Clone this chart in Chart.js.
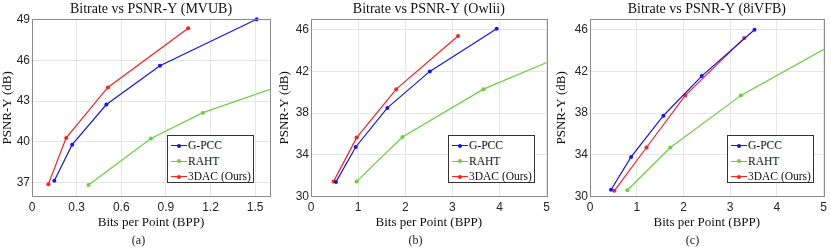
<!DOCTYPE html>
<html>
<head>
<meta charset="utf-8">
<script src="https://cdn.jsdelivr.net/npm/chart.js@4.4.1/dist/chart.umd.min.js"></script>
<style>
  html, body { margin: 0; padding: 0; background: #fff; }
  #wrap { position: relative; width: 831px; height: 250px; overflow: hidden; }
  .panel { position: absolute; top: 0; width: 277px; height: 250px; }
  .panel canvas { position: absolute; left: 0; top: 0; }
  .legend { position: absolute; background: #fff; border: 1px solid #333; box-sizing: border-box;
            width: 87px; height: 48px; font-family: "Liberation Serif", "Times New Roman", serif;
            font-size: 11.5px; color: #111; padding-top: 2px; }
  .legend .row { position: relative; height: 15.6px; line-height: 15.6px; padding-left: 20px; white-space: nowrap; }
  .legend .row i { position: absolute; left: 2.5px; top: 7px; width: 16px; height: 1.2px; }
  .legend .row b { position: absolute; left: 8.5px; top: 5.6px; width: 4px; height: 4px; border-radius: 50%; }
  .cap { position: absolute; left: 0; width: 277px; top: 233px; text-align: center;
         font-family: "Liberation Serif", "Times New Roman", serif; font-size: 12px; color: #222; }
</style>
</head>
<body>
<div id="wrap"></div>
<script>
// series names and colours
const seriesNames = ['G-PCC', 'RAHT', '3DAC (Ours)'];
const seriesColors = ['#1414ff', '#6ccf3c', '#ff1f1f'];

// (a) MVUB
const mvubGpccBpp  = [0.15, 0.27, 0.50, 0.86, 1.51];
const mvubGpccPsnr = [37.15, 39.8, 42.75, 45.6, 49.0];
const mvubRahtBpp  = [0.38, 0.80, 1.15, 1.95];
const mvubRahtPsnr = [36.85, 40.25, 42.15, 45.2];
const mvub3dacBpp  = [0.11, 0.23, 0.51, 1.05];
const mvub3dacPsnr = [36.9, 40.3, 44.0, 48.35];

// (b) Owlii
const owliiGpccBpp  = [0.53, 0.95, 1.62, 2.52, 3.94];
const owliiGpccPsnr = [31.4, 34.75, 38.5, 42.0, 46.1];
const owliiRahtBpp  = [0.97, 1.94, 3.66, 5.6];
const owliiRahtPsnr = [31.45, 35.7, 40.3, 44.0];
const owlii3dacBpp  = [0.48, 0.97, 1.81, 3.12];
const owlii3dacPsnr = [31.45, 35.65, 40.3, 45.4];

// (c) 8iVFB
const vfbGpccBpp  = [0.45, 0.88, 1.57, 2.39, 3.52];
const vfbGpccPsnr = [30.65, 33.8, 37.75, 41.55, 46.0];
const vfbRahtBpp  = [0.80, 1.72, 3.23, 5.6];
const vfbRahtPsnr = [30.6, 34.7, 39.7, 45.6];
const vfb3dacBpp  = [0.52, 1.21, 2.04, 3.30];
const vfb3dacPsnr = [30.55, 34.7, 39.7, 45.2];

// tick labels
const mvubXTicks = [0, 0.3, 0.6, 0.9, 1.2, 1.5];
const mvubYTicks = [37, 40, 43, 46, 49];
const bppXTicks  = [0, 1, 2, 3, 4, 5];
const psnrYTicks = [30, 34, 38, 42, 46];

const serif = '"Liberation Serif", "Times New Roman", serif';
const sans = '"Liberation Sans", Arial, sans-serif';

const panels = [
  { title: 'Bitrate vs PSNR-Y (MVUB)', cap: '(a)', xMax: 1.6, yMin: 36, yMax: 49,
    xTicks: mvubXTicks, yTicks: mvubYTicks, left: 32, right: 7, legendLeft: 167,
    data: [[mvubGpccBpp, mvubGpccPsnr], [mvubRahtBpp, mvubRahtPsnr], [mvub3dacBpp, mvub3dacPsnr]] },
  { title: 'Bitrate vs PSNR-Y (Owlii)', cap: '(b)', xMax: 5, yMin: 30, yMax: 47,
    xTicks: bppXTicks, yTicks: psnrYTicks, left: 34, right: 6, legendLeft: 171,
    data: [[owliiGpccBpp, owliiGpccPsnr], [owliiRahtBpp, owliiRahtPsnr], [owlii3dacBpp, owlii3dacPsnr]] },
  { title: 'Bitrate vs PSNR-Y (8iVFB)', cap: '(c)', xMax: 5, yMin: 30, yMax: 47,
    xTicks: bppXTicks, yTicks: psnrYTicks, left: 36, right: 5, legendLeft: 173,
    data: [[vfbGpccBpp, vfbGpccPsnr], [vfbRahtBpp, vfbRahtPsnr], [vfb3dacBpp, vfb3dacPsnr]] }
];

const panelLefts = [0, 277, 554];

// box round the plot area, MATLAB style
const boxPlugin = {
  id: 'box',
  afterDraw(chart) {
    const a = chart.chartArea, ctx = chart.ctx;
    ctx.save();
    ctx.strokeStyle = '#8c8c8c';
    ctx.lineWidth = 1;
    ctx.strokeRect(Math.round(a.left) + 0.5, Math.round(a.top) + 0.5,
                   Math.round(a.right - a.left), Math.round(a.bottom - a.top));
    ctx.restore();
  }
};

const wrap = document.getElementById('wrap');

panels.forEach((p, i) => {
  const panel = document.createElement('div');
  panel.className = 'panel';
  panel.style.left = panelLefts[i] + 'px';
  const canvas = document.createElement('canvas');
  canvas.width = 277; canvas.height = 250;
  canvas.style.width = '277px'; canvas.style.height = '250px';
  panel.appendChild(canvas);

  // legend
  const lg = document.createElement('div');
  lg.className = 'legend';
  lg.style.left = p.legendLeft + 'px';
  lg.style.top = '135px';
  seriesNames.forEach((n, k) => {
    const row = document.createElement('div');
    row.className = 'row';
    row.innerHTML = '<i style="background:' + seriesColors[k] + '"></i><b style="background:' +
      seriesColors[k] + '"></b>' + n;
    lg.appendChild(row);
  });
  panel.appendChild(lg);

  const cap = document.createElement('div');
  cap.className = 'cap';
  cap.textContent = p.cap;
  panel.appendChild(cap);
  wrap.appendChild(panel);

  const datasets = p.data.map((d, k) => ({
    label: seriesNames[k],
    data: d[0].map((x, j) => ({ x: x, y: d[1][j] })),
    borderColor: seriesColors[k],
    backgroundColor: seriesColors[k],
    borderWidth: 1.2,
    pointRadius: 2,
    pointBorderWidth: 0,
    pointHoverRadius: 2,
    tension: 0,
    clip: k === 1 ? undefined : 4
  }));

  new Chart(canvas, {
    type: 'line',
    data: { datasets: datasets },
    plugins: [boxPlugin],
    options: {
      responsive: false,
      animation: false,
      events: [],
      layout: { padding: { left: 0, right: p.right, top: 0, bottom: 20 } },
      plugins: {
        legend: { display: false },
        tooltip: { enabled: false },
        title: {
          display: true, text: p.title, fullSize: false, color: '#111',
          font: { family: serif, size: 14, weight: 'normal' },
          padding: { top: 1, bottom: 1.5 }
        }
      },
      scales: {
        x: {
          type: 'linear', min: 0, max: p.xMax,
          afterFit: s => { s.height = 33.5; },
          afterBuildTicks: s => { s.ticks = p.xTicks.map(v => ({ value: v })); },
          ticks: { color: '#262626', padding: 4, maxRotation: 0,
                   font: { family: sans, size: 12 },
                   callback: v => String(v) },
          grid: { color: '#e6e6e6', drawTicks: false },
          border: { display: false },
          title: { display: true, text: 'Bits per Point (BPP)', color: '#111', padding: 0,
                   font: { family: serif, size: 13 } }
        },
        y: {
          type: 'linear', min: p.yMin, max: p.yMax,
          afterFit: s => { s.width = p.left; },
          afterBuildTicks: s => { s.ticks = p.yTicks.map(v => ({ value: v })); },
          ticks: { color: '#262626', padding: 2,
                   font: { family: sans, size: 12 } },
          grid: { color: '#e6e6e6', drawTicks: false },
          border: { display: false },
          title: { display: true, text: 'PSNR-Y (dB)', color: '#111', padding: 0,
                   font: { family: serif, size: 13 } }
        }
      }
    }
  });
});
</script>
</body>
</html>
